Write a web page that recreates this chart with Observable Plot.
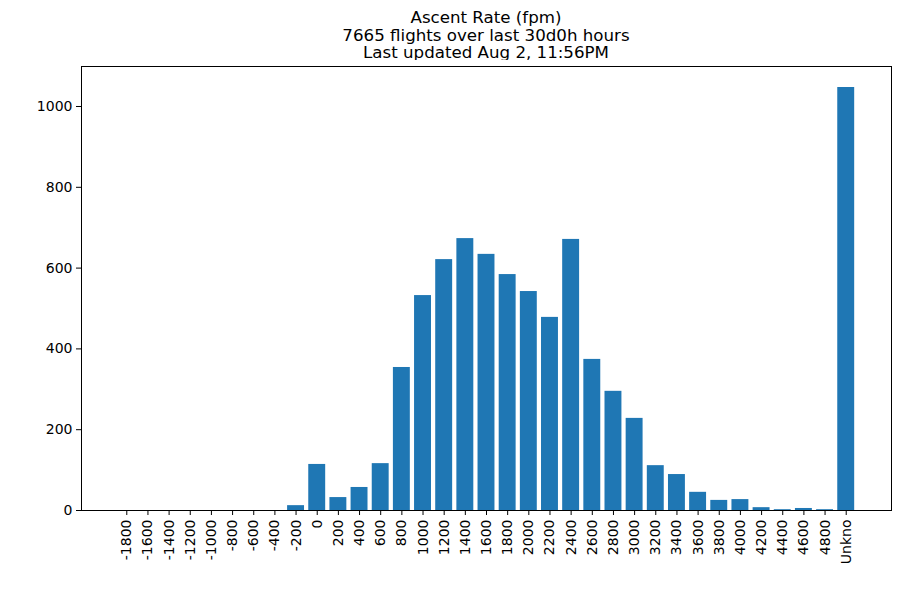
<!DOCTYPE html>
<html>
<head>
<meta charset="utf-8">
<script src="https://cdn.jsdelivr.net/npm/d3@7"></script>
<script src="https://cdn.jsdelivr.net/npm/@observablehq/plot@0.6"></script>
<style>
  html, body { margin: 0; padding: 0; background: #fff; }
  #wrap { width: 900px; height: 600px; position: relative; font-family: "DejaVu Sans", sans-serif; }
  #title { position: absolute; left: 81px; width: 810px; top: 9px; text-align: center; font-size: 16.67px; line-height: 17.6px; color: #000; }
  #chart { position: absolute; left: 0; top: 60px; }
</style>
</head>
<body>
<div id="wrap">
  <div id="title">
    <div>Ascent Rate (fpm)</div>
    <div>7665 flights over last 30d0h hours</div>
    <div>Last updated Aug 2, 11:56PM</div>
  </div>
  <div id="chart"></div>
</div>
<script>
const categories = ["-1800","-1600","-1400","-1200","-1000","-800","-600","-400","-200","0",
  "200","400","600","800","1000","1200","1400","1600","1800","2000",
  "2200","2400","2600","2800","3000","3200","3400","3600","3800","4000",
  "4200","4400","4600","4800","Unkno"];
const counts = [0,0,0,0,0,0,0,0,12,114,
  32,57,116,354,532,621,673,634,584,542,
  478,671,374,295,228,111,89,45,25,27,
  7,2,5,2,1047];
const yTicks = [0,200,400,600,800,1000];

const data = categories.map((c, i) => ({cat: c, n: counts[i]}));

const chart = Plot.plot({
  width: 900,
  height: 540,
  marginLeft: 81,
  marginRight: 9,
  marginTop: 6,
  marginBottom: 90,
  style: {fontFamily: "DejaVu Sans, sans-serif", fontSize: "14px", color: "#000", background: "#fff"},
  x: {type: "band", domain: categories, paddingInner: 0.2, paddingOuter: 1.74, align: 0.5, round: false, label: null},
  y: {domain: [0, 1099], label: null},
  marks: [
    Plot.barY(data, {x: "cat", y: "n", fill: "#1f77b4"}),
    Plot.frame({stroke: "#000", strokeWidth: 1}),
    Plot.axisY({ticks: yTicks, tickFormat: d3.format("d"), tickSize: 5, tickPadding: 4, label: null, fontSize: 14, stroke: "#000"}),
    Plot.axisX({tickSize: 5, tickRotate: -90, tickPadding: 4, label: null, fontSize: 14, stroke: "#000"})
  ]
});
document.getElementById("chart").appendChild(chart);
</script>
</body>
</html>
